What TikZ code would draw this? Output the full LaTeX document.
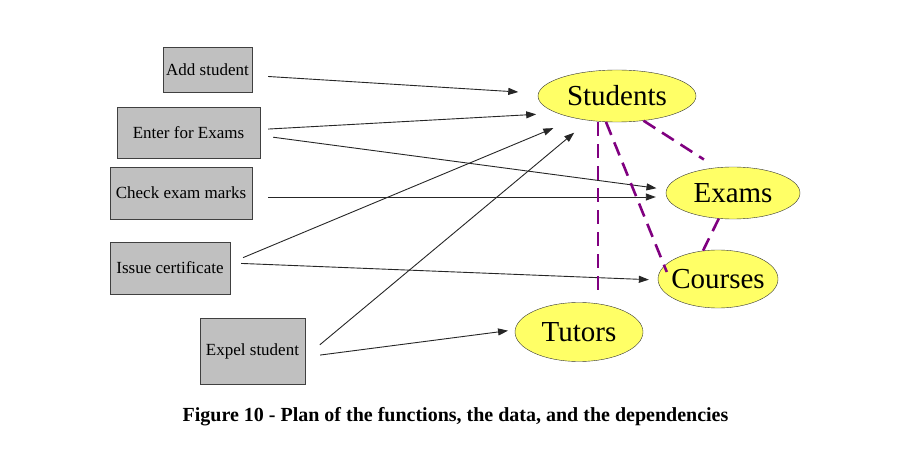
\documentclass[tikz,border=0pt]{standalone}
\usepackage{fontspec}
\setmainfont{Liberation Serif}
\usetikzlibrary{shapes.geometric,arrows.meta}
\definecolor{boxgray}{RGB}{192,192,192}
\definecolor{datayellow}{RGB}{255,255,102}
\definecolor{deppurple}{RGB}{128,0,128}

\begin{document}
\begin{tikzpicture}[x=1pt,y=-1pt,
    fnbox/.style={draw=black!75, fill=boxgray, inner sep=0pt, font=\fontsize{17}{20}\selectfont},
    datanode/.style={ellipse, draw=black!80, fill=datayellow, inner xsep=-6pt, inner ysep=0pt, font=\fontsize{29}{32}\selectfont},
    flow/.style={-{Triangle[length=10pt,width=7pt]}, draw=black!85, line width=0.9pt},
    dep/.style={deppurple, line width=2.6pt, dash pattern=on 14pt off 8pt}]
    \useasboundingbox (0,0) rectangle (909,454);

    % Functions (grey boxes)
    \foreach \name/\cx/\cy/\w/\h/\txt in {
        add/207.5/69.5/89/45/Add student,
        enter/188.5/132.5/143/51/Enter for Exams,
        check/181/193/142/52/Check exam marks,
        issue/170/268/120/52/Issue certificate,
        expel/252.5/351/105/66/Expel student
    }{
        \node[fnbox, minimum width=\w pt, minimum height=\h pt] (\name) at (\cx,\cy) {\txt};
    }

    % Data (yellow ellipses)
    \foreach \name/\cx/\cy/\w/\h/\txt in {
        stud/617/96/158/52/Students,
        exams/733/193/134/52/Exams,
        courses/718/279/120/58/Courses,
        tutors/579/332/128/59/Tutors
    }{
        \node[datanode, minimum width=\w pt, minimum height=\h pt] (\name) at (\cx,\cy) {\txt};
    }

    % Which function uses which data
    \draw[flow, shorten <=16pt, shorten >=20pt] ([yshift=-6pt]add.east) -- (stud.178);
    \draw[flow, shorten <=8pt, shorten >=21pt] ([yshift=3pt]enter.east) -- (stud.196);
    \draw[flow, shorten <=13pt, shorten >=10pt] ([yshift=-3pt]enter.east) -- (exams.177);
    \draw[flow, shorten <=16pt, shorten >=10pt] ([yshift=-4pt]check.east) -- ([yshift=-4pt]exams.west);
    \draw[flow, shorten <=14pt, shorten >=25pt] ([yshift=5pt]issue.east) -- (stud.209);
    \draw[flow, shorten <=11pt, shorten >=9pt] ([yshift=5pt]issue.east) -- (courses.181);
    \draw[flow, shorten <=19pt, shorten >=19pt] ([yshift=-6pt]expel.east) -- (stud.221);
    \draw[flow, shorten <=15pt, shorten >=7pt] ([yshift=-6pt]expel.east) -- (tutors.178);

    % Dependencies between the data
    \draw[dep, shorten >=5pt] ([xshift=-19pt]stud.south) -- ([xshift=19pt]tutors.north);
    \draw[dep] (stud.247) -- ([shift={(9,-7)}]courses.west);
    \draw[dep, shorten >=15pt] (stud.317) -- (exams.123);
    \draw[dep] (exams.241) -- (courses.118);

    % Caption
    \node[font=\bfseries\fontsize{20}{24}\selectfont] (caption) at (455.5,417)
        {Figure 10 - Plan of the functions, the data, and the dependencies};
\end{tikzpicture}
\end{document}
